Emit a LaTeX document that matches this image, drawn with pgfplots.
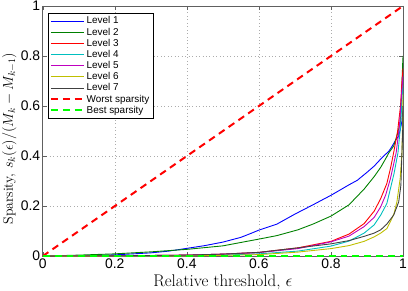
\documentclass[border=0pt]{standalone}
\usepackage{fontspec}
\usepackage{pgfplots}
\pgfplotsset{compat=1.18}
\newfontfamily\helv{Liberation Sans}
\definecolor{mblue}{rgb}{0,0,1}
\definecolor{mgreen}{rgb}{0,0.5,0}
\definecolor{mred}{rgb}{1,0,0}
\definecolor{mcyan}{rgb}{0,0.75,0.75}
\definecolor{mmag}{rgb}{0.75,0,0.75}
\definecolor{myel}{rgb}{0.75,0.75,0}
\definecolor{mgray}{rgb}{0.25,0.25,0.25}
\definecolor{bgreen}{rgb}{0,1,0}
\pgfplotsset{legend image code/.code={\draw[#1] (0pt,0pt) -- (33pt,0pt);}}
\begin{document}
\begin{tikzpicture}
\begin{axis}[
  scale only axis, width=363pt, height=252pt,
  xmin=0, xmax=1, ymin=0, ymax=1,
  xtick={0,0.2,0.4,0.6,0.8,1}, ytick={0,0.2,0.4,0.6,0.8,1},
  grid=major, grid style={dash pattern=on 0.7pt off 2.8pt, gray!65, line width=0.5pt},
  axis line style={gray!75!black, line width=0.6pt},
  tick align=inside, tick pos=both, major tick length=4pt,
  tick style={gray!75!black},
  ticklabel style={font=\helv\fontsize{14}{14}\selectfont},
  /pgf/number format/assume math mode=true,
  xticklabel style={yshift=1pt},
  yticklabel style={xshift=1pt},
  xlabel={Relative threshold, $\epsilon$},
  ylabel={Sparsity, $s_k(\epsilon)/(M_k - M_{k-1})$},
  xlabel style={font=\fontsize{17}{19}\selectfont},
  ylabel style={font=\fontsize{14}{16}\selectfont, at={(ticklabel cs:0.47)}},
  ylabel shift=-2.5pt,
  legend style={at={(0.014,0.972)}, anchor=north west, draw=black, fill=white,
    font=\helv\fontsize{10}{12}\selectfont, row sep=-0.7pt, inner sep=2pt,
    nodes={inner ysep=1.6pt}},
  legend cell align=left,
  every axis plot/.append style={line width=0.9pt},
]
\addplot[mblue] coordinates {(0,0) (0.1,0.002) (0.2,0.005) (0.3,0.013) (0.35,0.02) (0.4,0.031) (0.45,0.042) (0.5,0.056) (0.55,0.075) (0.58,0.092) (0.6,0.104) (0.65,0.128) (0.7,0.168) (0.75,0.205) (0.78,0.228) (0.8,0.243) (0.85,0.285) (0.873,0.303) (0.9,0.335) (0.92,0.36) (0.938,0.388) (0.95,0.405) (0.961,0.42) (0.97,0.44) (0.98,0.465) (0.988,0.48) (0.993,0.51) (0.997,0.54) (1,0.6)};
\addlegendentry{Level 1}
\addplot[mgreen] coordinates {(0,0) (0.1,0.004) (0.2,0.009) (0.3,0.017) (0.4,0.027) (0.5,0.041) (0.57,0.06) (0.6,0.068) (0.65,0.082) (0.708,0.105) (0.75,0.128) (0.8,0.16) (0.85,0.205) (0.892,0.268) (0.92,0.318) (0.938,0.355) (0.95,0.385) (0.961,0.414) (0.974,0.44) (0.985,0.49) (0.993,0.54) (0.996,0.65) (0.999,0.77) (1,0.8)};
\addlegendentry{Level 2}
\addplot[mred] coordinates {(0,0) (0.2,0.001) (0.4,0.004) (0.5,0.008) (0.6,0.015) (0.708,0.033) (0.8,0.059) (0.85,0.088) (0.892,0.13) (0.92,0.18) (0.938,0.23) (0.955,0.29) (0.965,0.35) (0.974,0.414) (0.985,0.5) (0.993,0.6) (0.997,0.7) (1,0.75)};
\addlegendentry{Level 3}
\addplot[mcyan] coordinates {(0,0) (0.2,0.0005) (0.4,0.002) (0.5,0.004) (0.6,0.009) (0.708,0.02) (0.8,0.04) (0.85,0.06) (0.892,0.092) (0.92,0.125) (0.938,0.164) (0.955,0.21) (0.965,0.27) (0.975,0.33) (0.986,0.414) (0.993,0.52) (0.997,0.62) (1,0.7)};
\addlegendentry{Level 4}
\addplot[mmag] coordinates {(0,0) (0.2,0.001) (0.4,0.004) (0.5,0.008) (0.6,0.014) (0.708,0.03) (0.8,0.057) (0.85,0.08) (0.892,0.118) (0.92,0.155) (0.938,0.197) (0.952,0.245) (0.965,0.31) (0.981,0.414) (0.99,0.52) (0.996,0.65) (1,0.72)};
\addlegendentry{Level 5}
\addplot[myel] coordinates {(0,0) (0.2,0.0003) (0.4,0.001) (0.5,0.003) (0.6,0.006) (0.708,0.016) (0.8,0.03) (0.85,0.042) (0.892,0.059) (0.92,0.077) (0.938,0.092) (0.955,0.11) (0.965,0.138) (0.975,0.17) (0.983,0.217) (0.992,0.31) (0.997,0.414) (0.999,0.55) (1,0.65)};
\addlegendentry{Level 6}
\addplot[mgray] coordinates {(0,0) (0.2,0.001) (0.4,0.004) (0.5,0.008) (0.6,0.015) (0.708,0.033) (0.8,0.049) (0.85,0.062) (0.892,0.079) (0.92,0.092) (0.938,0.105) (0.955,0.128) (0.974,0.164) (0.988,0.217) (0.994,0.283) (0.997,0.414) (0.999,0.5) (1,0.6)};
\addlegendentry{Level 7}
\addplot[mred, line width=2pt, dash pattern=on 7pt off 5pt] coordinates {(0,0) (1,1)};
\addlegendentry{Worst sparsity}
\addplot[bgreen, line width=2pt, dash pattern=on 7pt off 5pt] coordinates {(0,0) (1,0)};
\addlegendentry{Best sparsity}
\end{axis}
\pgfresetboundingbox
\path (current axis.south west) ++(-43pt,-35pt) rectangle ([xshift=5pt,yshift=6pt]current axis.north east);
\end{tikzpicture}
\end{document}
